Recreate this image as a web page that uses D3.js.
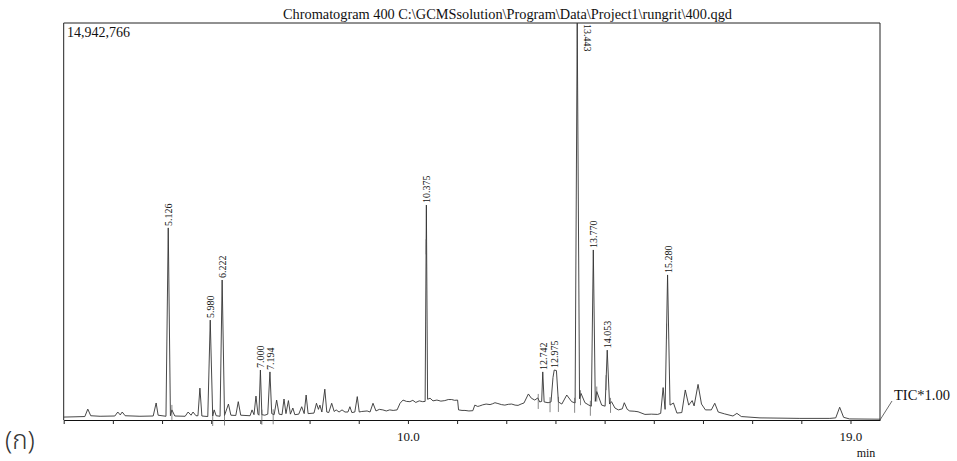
<!DOCTYPE html>
<html>
<head>
<meta charset="utf-8">
<script src="https://cdn.jsdelivr.net/npm/d3@7"></script>
<style>
  html, body { margin: 0; padding: 0; background: #fff; }
  svg { display: block; }
  text { font-family: "Liberation Serif", "Times New Roman", serif; fill: #111; }
</style>
</head>
<body>
<svg id="chart" width="957" height="461"></svg>
<script>
// ---------- data (retention time in min, TIC intensity in millions of counts) ----------
const titleText = "Chromatogram 400 C:\\GCMSsolution\\Program\\Data\\Project1\\rungrit\\400.qgd";
const maxLabel = "14,942,766";
const yMax = 14.942766;
const xDomain = [3.0, 19.6];
const tickValues = [3,4,5,6,7,8,9,10,11,12,13,14,15,16,17,18,19];
const tickLabels = {10: "10.0", 19: "19.0"};

const traceTime = [
  3.00, 3.23, 3.43, 3.49, 3.55, 3.74, 4.04, 4.10, 4.15, 4.19, 4.25, 4.55, 4.82, 4.88, 4.92, 5.08,
  5.126, 5.17, 5.20, 5.26, 5.47, 5.53, 5.59, 5.63, 5.69, 5.73, 5.77, 5.81, 5.93, 5.980, 6.03, 6.06,
  6.10, 6.18, 6.222, 6.27, 6.35, 6.40, 6.50, 6.55, 6.60, 6.79, 6.83, 6.87, 6.91, 6.95, 6.97, 7.000,
  7.03, 7.09, 7.15, 7.194, 7.23, 7.28, 7.33, 7.38, 7.44, 7.48, 7.52, 7.57, 7.61, 7.66, 7.70, 7.78,
  7.84, 7.89, 7.93, 7.97, 8.09, 8.14, 8.18, 8.21, 8.25, 8.31, 8.35, 8.39, 8.45, 8.50, 8.54, 8.60,
  8.66, 8.72, 8.78, 8.82, 8.86, 8.92, 8.97, 9.01, 9.06, 9.17, 9.23, 9.29, 9.35, 9.42, 9.49, 9.56,
  9.63, 9.70, 9.78, 9.84, 9.90, 9.97, 10.04, 10.10, 10.16, 10.23, 10.30, 10.35, 10.375, 10.40, 10.45, 10.51,
  10.59, 10.67, 10.75, 10.82, 10.89, 10.95, 11.01, 11.03, 11.10, 11.16, 11.24, 11.32, 11.36, 11.42, 11.46, 11.52,
  11.59, 11.67, 11.72, 11.77, 11.83, 11.90, 11.97, 12.04, 12.11, 12.18, 12.24, 12.30, 12.36, 12.45, 12.51, 12.58,
  12.64, 12.68, 12.72, 12.742, 12.77, 12.85, 12.91, 12.95, 12.975, 13.02, 13.06, 13.13, 13.23, 13.33, 13.40, 13.443,
  13.49, 13.52, 13.60, 13.68, 13.73, 13.770, 13.81, 13.84, 13.94, 14.01, 14.053, 14.10, 14.14, 14.21, 14.28, 14.36,
  14.40, 14.46, 14.51, 14.60, 14.68, 14.82, 14.95, 15.08, 15.14, 15.19, 15.23, 15.280, 15.33, 15.40, 15.47, 15.57,
  15.64, 15.71, 15.78, 15.82, 15.90, 15.97, 16.05, 16.17, 16.24, 16.31, 16.44, 16.61, 16.69, 16.78, 17.16, 17.97,
  18.58, 18.70, 18.78, 18.86, 18.98, 19.60
];
const traceTIC = [
  0.11, 0.12, 0.13, 0.41, 0.16, 0.14, 0.15, 0.30, 0.19, 0.30, 0.16, 0.14, 0.15, 0.64, 0.18, 0.14,
  7.23, 0.16, 0.38, 0.15, 0.14, 0.30, 0.18, 0.30, 0.16, 0.16, 1.20, 0.15, 0.13, 3.76, 0.15, 0.38,
  0.16, 0.14, 5.27, 0.17, 0.60, 0.18, 0.17, 0.69, 0.18, 0.16, 0.38, 0.20, 0.90, 0.22, 0.18, 1.88,
  0.20, 0.18, 0.22, 1.81, 0.24, 0.20, 0.75, 0.22, 0.20, 0.79, 0.24, 0.73, 0.22, 0.45, 0.20, 0.22,
  0.50, 0.24, 0.94, 0.24, 0.26, 0.63, 0.40, 0.56, 0.30, 1.16, 0.30, 0.28, 0.63, 0.32, 0.38, 0.30,
  0.38, 0.30, 0.30, 0.50, 0.28, 0.30, 0.88, 0.30, 0.32, 0.34, 0.30, 0.63, 0.34, 0.40, 0.38, 0.34,
  0.38, 0.36, 0.38, 0.63, 0.75, 0.70, 0.69, 0.74, 0.66, 0.72, 0.69, 0.70, 8.09, 0.78, 0.82, 0.72,
  0.75, 0.71, 0.73, 0.77, 0.77, 0.74, 0.75, 0.38, 0.36, 0.36, 0.34, 0.35, 0.56, 0.51, 0.53, 0.57,
  0.60, 0.58, 0.61, 0.65, 0.62, 0.58, 0.56, 0.59, 0.60, 0.56, 0.55, 0.60, 0.64, 0.98, 0.82, 0.75,
  0.83, 0.68, 0.70, 1.81, 0.68, 0.65, 0.68, 1.60, 1.88, 1.86, 0.68, 0.60, 0.94, 0.69, 0.64, 14.94,
  0.80, 1.00, 0.65, 0.56, 0.52, 6.40, 0.70, 1.07, 0.56, 0.52, 2.63, 0.60, 0.69, 0.45, 0.38, 0.42,
  0.65, 0.40, 0.34, 0.33, 0.31, 0.21, 0.22, 0.21, 0.25, 1.22, 0.40, 5.46, 0.56, 0.64, 0.26, 0.28,
  1.13, 0.56, 0.73, 0.53, 1.34, 0.60, 0.38, 0.38, 0.63, 0.30, 0.23, 0.15, 0.25, 0.13, 0.08, 0.06,
  0.06, 0.08, 0.48, 0.10, 0.04, 0.03
];

// labelled peaks
const peakLabels = ["5.126","5.980","6.222","7.000","7.194","10.375","12.742","12.975","13.443","13.770","14.053","15.280"];
const peakTimes  = [5.126, 5.980, 6.222, 7.000, 7.194, 10.375, 12.742, 12.975, 13.443, 13.770, 14.053, 15.280];
const peakHeights = [7.23, 3.76, 5.27, 1.88, 1.81, 8.09, 1.81, 1.88, 14.94, 6.40, 2.63, 5.46];

// integration start/end marks (min)
const markTimes = [5.20, 6.03, 6.27, 7.03, 7.26, 10.37, 12.65, 12.89, 13.06, 13.39, 13.51, 13.71, 13.84, 14.03, 14.12, 15.26];

// ---------- drawing ----------
const svg = d3.select("#chart");
const pLeft = 63.7, pRight = 880, pTop = 23, pBottom = 420;

const x = d3.scaleLinear().domain(xDomain).range([pLeft, pRight]);
const y = d3.scaleLinear().domain([0, yMax]).range([pBottom, pTop]);

svg.append("defs").append("clipPath").attr("id", "clip")
  .append("rect").attr("x", pLeft).attr("y", pTop).attr("width", pRight - pLeft).attr("height", pBottom - pTop + 1);

// title
svg.append("text").attr("x", 283).attr("y", 18.5)
  .attr("textLength", 449).attr("lengthAdjust", "spacingAndGlyphs")
  .style("font-size", "13.6px").text(titleText);

// frame (left, top, right)
svg.append("path")
  .attr("d", `M${pLeft},${pBottom}V${pTop}H${pRight}V${pBottom}`)
  .attr("fill", "none").attr("stroke", "#222").attr("stroke-width", 1);

// max label
svg.append("text").attr("x", 67).attr("y", 37).style("font-size", "14px").text(maxLabel);

// x axis
const axis = d3.axisBottom(x)
  .tickValues(tickValues)
  .tickSize(4)
  .tickSizeOuter(0)
  .tickFormat(d => tickLabels[d] || "");
const gx = svg.append("g").attr("transform", `translate(0,${pBottom})`).call(axis);
gx.select(".domain").attr("stroke", "#111").attr("stroke-width", 1.2);
gx.selectAll(".tick line").attr("stroke", "#222");
gx.selectAll(".tick text")
  .attr("y", 12)
  .style("font-family", '"Liberation Serif", "Times New Roman", serif')
  .style("font-size", "13px").attr("fill", "#111");

svg.append("text").attr("x", 866).attr("y", 457).attr("text-anchor", "middle")
  .style("font-size", "12px").text("min");

// trace
const traceData = traceTime.map((t, i) => [t, traceTIC[i]]);
const line = d3.line().x(d => x(d[0])).y(d => y(d[1]));
svg.append("path").datum(traceData)
  .attr("clip-path", "url(#clip)")
  .attr("fill", "none").attr("stroke", "#333").attr("stroke-width", 0.9)
  .attr("stroke-linejoin", "round")
  .attr("d", line);

// integration marks
const bis = d3.bisector(d => d[0]).left;
function valueAt(t) {
  const i = Math.max(1, Math.min(traceData.length - 1, bis(traceData, t)));
  const a = traceData[i - 1], b = traceData[i];
  return a[1] + (b[1] - a[1]) * (t - a[0]) / (b[0] - a[0]);
}
svg.append("g").selectAll("line").data(markTimes).join("line")
  .attr("x1", d => x(d)).attr("x2", d => x(d))
  .attr("y1", d => y(valueAt(d)) - 5)
  .attr("y2", d => Math.min(y(valueAt(d)) + 10, pBottom + 6))
  .attr("stroke", "#555").attr("stroke-width", 0.7);

// peak labels
peakLabels.forEach((lab, i) => {
  const px = x(peakTimes[i]);
  if (peakHeights[i] >= yMax * 0.99) {
    svg.append("text")
      .attr("transform", `translate(${px + 10.5},${pTop + 1}) rotate(90)`)
      .attr("dy", "0.35em")
      .style("font-size", "10px").text(lab);
  } else {
    svg.append("text")
      .attr("transform", `translate(${px + 0.5},${y(peakHeights[i]) - 2}) rotate(-90)`)
      .attr("dy", "0.35em")
      .style("font-size", "10px").text(lab);
  }
});

// TIC label with leader
svg.append("line").attr("x1", pRight).attr("y1", pBottom).attr("x2", 892).attr("y2", 401)
  .attr("stroke", "#444").attr("stroke-width", 0.8);
svg.append("text").attr("x", 894).attr("y", 400).style("font-size", "14.5px").text("TIC*1.00");

// panel label
svg.append("text").attr("x", 5).attr("y", 449)
  .style("font-family", '"Noto Sans Thai", "Loma", "Garuda", "Noto Sans", "DejaVu Sans", sans-serif')
  .style("font-size", "26px").style("font-weight", "300").style("fill", "#333").text("(ก)");
</script>
</body>
</html>
